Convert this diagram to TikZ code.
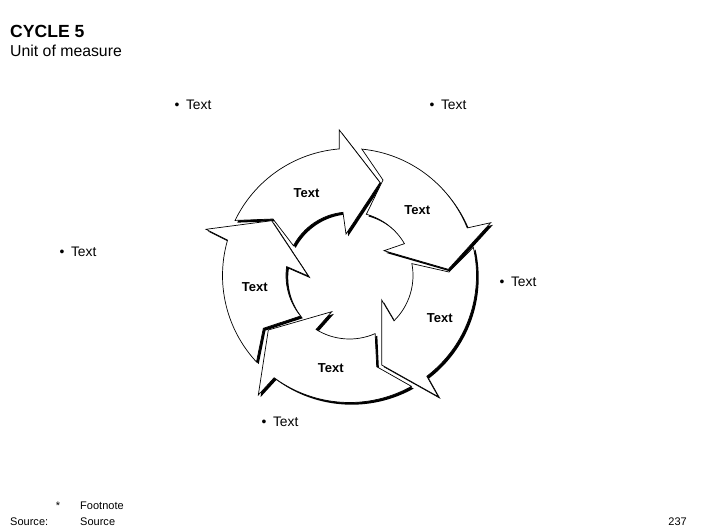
\documentclass[tikz,border=0pt]{standalone}
\usepackage{fontspec}
\setmainfont{Liberation Sans}
\usetikzlibrary{positioning}
\definecolor{tinta}{HTML}{000000}
\definecolor{papel}{HTML}{FFFFFF}

\begin{document}
\begin{tikzpicture}[x=0.03cm,y=0.03cm,line join=miter,
    flecha/.style={draw=tinta,fill=papel,line width=0.6pt},
    sombra/.style={fill=tinta},
    rotulo/.style={font=\fontsize{11.1}{13}\selectfont\bfseries,inner sep=0pt},
    punto/.style={anchor=base west,font=\fontsize{11.8}{14}\selectfont,inner sep=0pt},
    pie/.style={anchor=base west,font=\fontsize{9.4}{11}\selectfont,inner sep=0pt}]
        % --- marco de la lámina ---
        \useasboundingbox (0,0) rectangle (706,-529);
        % --- título ---
        \node[anchor=base west,inner sep=0pt,font=\fontsize{15}{17}\selectfont\bfseries]
              (titulo) at (10,-37) {CYCLE 5};
        \node[anchor=base west,inner sep=0pt,font=\fontsize{13.5}{15}\selectfont]
              (unidad) at (10,-56.5) {Unit of measure};
        % --- ciclo de cinco flechas (ángulo cola ext / muesca / cola int / fin int / púa int / punta / púa ext / fin ext) ---
        \def\arcos{154.3/-76.5/56.5/152/95.9/-3.5/41.5/30.5/93/-10.2/145.5/94.6,
                   84.4/33.5/95.5/74.6/30.1/34.5/24.8/98.8/6.2/141.2/52.8/22.0,
                   12.8/99.5/3.5/10.8/-45.5/32.2/-24.5/32.2/-89.5/88.8/-121.2/-52.5,
                   -60.8/27.2/-91.2/-66.2/-121.8/-17.8/-36.2/-81.2/-54.5/-91.2/-119.5/-126.4,
                   -137.1/-86.2/-52.8/-140.4/-188.1/-41.2/-0.5/-77.8/54.8/-143.5/46.2/-196.2}
        \begin{scope}[shift={(349.5,-275.5)}]
          % --- sombras ---
          \foreach \ao/\nx/\ny/\ai/\bi/\px/\py/\tx/\ty/\qx/\qy/\bo in \arcos{
            \fill[sombra,shift={(2.2,-2.2)}] (\ao:127) -- (\nx,\ny) -- (\ai:63.5)
                  arc[start angle=\ai,end angle=\bi,radius=63.5]
                  -- (\px,\py) -- (\tx,\ty) -- (\qx,\qy) -- (\bo:127)
                  arc[start angle=\bo,end angle=\ao,radius=127] -- cycle;
          }
          % --- flechas ---
          \foreach \ao/\nx/\ny/\ai/\bi/\px/\py/\tx/\ty/\qx/\qy/\bo in \arcos{
            \filldraw[flecha] (\ao:127) -- (\nx,\ny) -- (\ai:63.5)
                  arc[start angle=\ai,end angle=\bi,radius=63.5]
                  -- (\px,\py) -- (\tx,\ty) -- (\qx,\qy) -- (\bo:127)
                  arc[start angle=\bo,end angle=\ao,radius=127] -- cycle;
          }
        \end{scope}
        % --- rótulos de las flechas ---
        \node[rotulo] (paso1) at (306.5,-193) {Text};
        \node[rotulo] (paso2) at (417.3,-210) {Text};
        \node[rotulo] (paso3) at (439.7,-318.3) {Text};
        \node[rotulo] (paso4) at (330.7,-367.7) {Text};
        \node[rotulo] (paso5) at (254.7,-287.3) {Text};
        % --- viñetas exteriores ---
        \node[punto] (nota1) at (174.3,-109.3) {•\kern5.7pt Text};
        \node[punto] (nota2) at (429.3,-109.3) {•\kern5.7pt Text};
        \node[punto] (nota3) at (499.3,-286.3) {•\kern5.7pt Text};
        \node[punto] (nota4) at (261.3,-426.3) {•\kern5.7pt Text};
        \node[punto] (nota5) at (59.3,-256.3) {•\kern5.7pt Text};
        % --- pie ---
        \node[pie,anchor=base] (asterisco) at (58,-509.5) {*};
        \node[pie] (nota) at (80,-509.5) {Footnote};
        \node[pie] (fuente) at (10,-525) {Source:};
        \node[pie] (fuentetxt) at (80,-525) {Source};
        \node[pie,anchor=base east] (pagina) at (687,-525) {237};
      \end{tikzpicture}
\end{document}
